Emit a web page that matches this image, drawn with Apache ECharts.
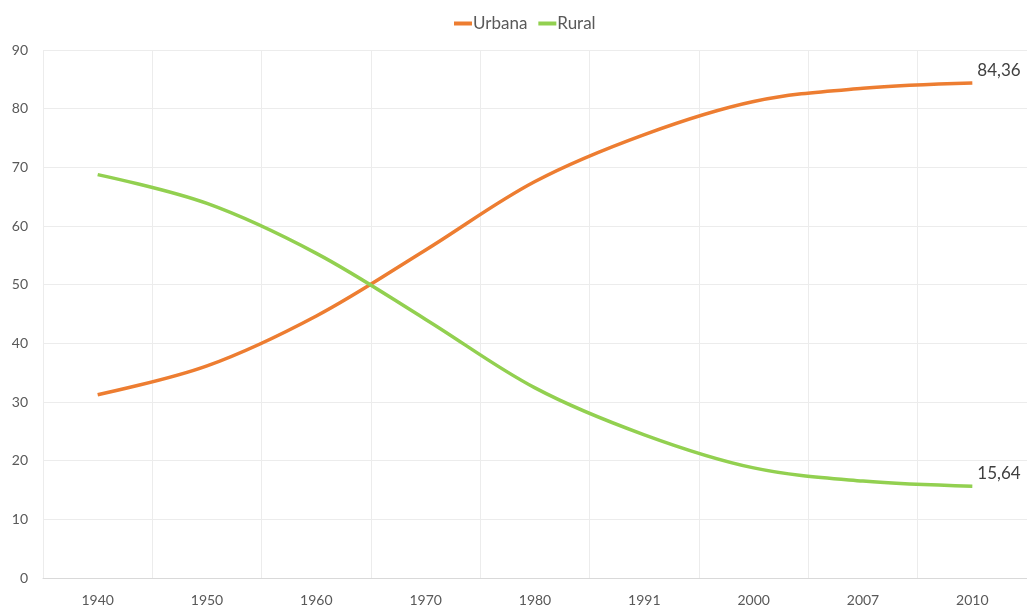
<!DOCTYPE html>
<html>
<head>
<meta charset="utf-8">
<script src="https://cdn.jsdelivr.net/npm/echarts@6/dist/echarts.min.js"></script>
<style>
    html, body { margin: 0; padding: 0; background: #fff; }
    #main { width: 1027px; height: 607px; }
</style>
</head>
<body>
<div id="main"></div>
<script>
// dados (população urbana x rural, %)
var anos = ['1940', '1950', '1960', '1970', '1980', '1991', '2000', '2007', '2010'];
var urbana = [31.24, 36.16, 44.67, 55.92, 67.59, 75.59, 81.23, 83.48, 84.36];
var rural = [68.76, 63.84, 55.33, 44.08, 32.41, 24.41, 18.77, 16.52, 15.64];
var yTicks = [0, 90, 10];

var myChart = echarts.init(document.getElementById('main'));

// rótulo só no último ponto, com vírgula decimal
var endLabel = {
    show: true,
    offset: [-3, -13],
    color: '#404040',
    fontSize: 17,
    fontFamily: 'Lato',
    formatter: function(p) {
        return String(p.value).replace('.', ',');
    }
};

var option = {
    animation: false,
    textStyle: { fontFamily: 'Lato' },
    legend: {
        data: ['Urbana', 'Rural'],
        left: 449,
        top: 10,
        itemWidth: 18,
        itemHeight: 4,
        itemGap: 11,
        icon: 'rect',
        textStyle: { color: '#595959', fontSize: 17, padding: [0, 0, 0, -4] }
    },
    grid: { left: 43, right: -2, top: 50, bottom: 29 },
    xAxis: {
        type: 'category',
        boundaryGap: true,
        data: anos,
        axisLine: { lineStyle: { color: '#d9d9d9' } },
        axisTick: { show: false },
        axisLabel: { color: '#595959', fontSize: 14, margin: 15 },
        splitLine: { show: true, lineStyle: { color: '#ececec' } }
    },
    yAxis: {
        type: 'value',
        min: yTicks[0],
        max: yTicks[1],
        interval: yTicks[2],
        axisLine: { show: false },
        axisTick: { show: false },
        axisLabel: { color: '#595959', fontSize: 14, margin: 15 },
        splitLine: { lineStyle: { color: '#ececec' } }
    },
    series: [
        {
            name: 'Urbana',
            type: 'line',
            data: urbana,
            smooth: 0.35,
            symbol: 'none',
            color: '#ed7d31',
            lineStyle: { width: 3.5 },
            endLabel: endLabel
        },
        {
            name: 'Rural',
            type: 'line',
            data: rural,
            smooth: 0.35,
            symbol: 'none',
            color: '#92d050',
            lineStyle: { width: 3.5 },
            endLabel: endLabel
        }
    ]
};

myChart.setOption(option);
</script>
</body>
</html>
